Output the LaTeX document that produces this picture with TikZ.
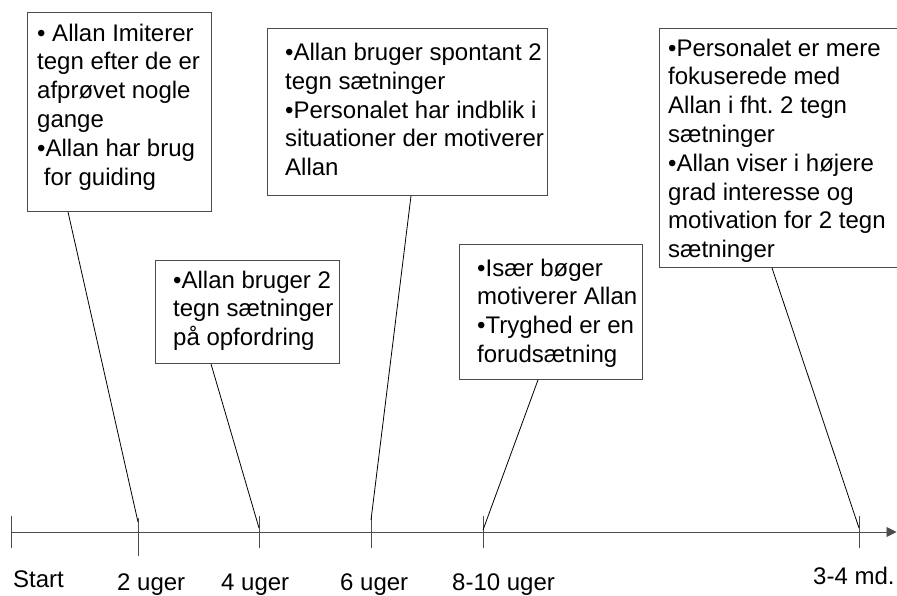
\documentclass[tikz,border=0pt]{standalone}
\usepackage{fontspec}
\setmainfont{Liberation Sans}
\usetikzlibrary{arrows.meta}
\frenchspacing

\tikzset{
  box/.style={draw=black!70, line width=0.9pt, anchor=north west, inner sep=0pt},
  txt/.style={anchor=north west, inner sep=0pt, align=left, font=\fontsize{24}{28.8}\selectfont},
  lbl/.style={anchor=base west, inner sep=0pt, font=\fontsize{24}{28.8}\selectfont},
  axis/.style={draw=black!70, line width=0.9pt},
  leader/.style={draw=black, line width=0.8pt}
}

\begin{document}
\begin{tikzpicture}[x=1pt, y=-1pt]
\useasboundingbox (0,0) rectangle (897,595);

\def\xs{11}
\def\xa{138}
\def\xb{259}
\def\xc{371}
\def\xd{483}
\def\xe{859}

\def\ya{532}
\def\yt{516}
\def\yb{548}

% boxes
\node[box, minimum width=184, minimum height=199] (b1) at (27,12) {};
\node[box, minimum width=184, minimum height=103] (b2) at (155,260) {};
\node[box, minimum width=280, minimum height=167] (b3) at (267,28) {};
\node[box, minimum width=183, minimum height=135] (b4) at (459,244) {};
\node[box, minimum width=260, minimum height=239] (b5) at (659,28) {};

\node[txt] (t1) at (37,23.5) {• Allan Imiterer\\tegn efter de er\\afprøvet nogle\\gange\\•Allan har brug\\\hspace*{.28em}for guiding};
\node[txt] (t2) at (173,270.5) {•Allan bruger 2\\tegn sætninger\\på opfordring};
\node[txt] (t3) at (285,43) {•Allan bruger spontant 2\\tegn sætninger\\•Personalet har indblik i\\situationer der motiverer\\Allan};
\node[txt] (t4) at (477,258.5) {•Især bøger\\motiverer Allan\\•Tryghed er en\\forudsætning};
\node[txt] (t5) at (668,38.5) {•Personalet er mere\\fokuserede med\\Allan i fht. 2 tegn\\sætninger\\•Allan viser i højere\\grad interesse og\\motivation for 2 tegn\\sætninger};

% time axis
\draw[axis, -{Triangle[length=10pt, width=10pt]}] (\xs,\ya) -- (896.5,\ya);
\draw[axis] (\xs,\yt) -- (\xs,\yb);
\draw[axis] (\xa,518) -- (\xa,556);
\draw[axis] (\xb,\yt) -- (\xb,\yb);
\draw[axis] (\xc,\yt) -- (\xc,\yb);
\draw[axis] (\xd,\yt) -- (\xd,\yb);
\draw[axis] (\xe,\yt) -- (\xe,\yb);

\coordinate (k1) at (\xa,522);
\coordinate (k2) at (\xb,528);
\coordinate (k3) at (\xc,520);
\coordinate (k4) at (\xd,530);
\coordinate (k5) at (\xe,528);

\node[lbl] (start) at (13,587) {Start};
\node[lbl] (w2) at (117,590) {2 uger};
\node[lbl] (w4) at (221,590) {4 uger};
\node[lbl] (w6) at (340,590) {6 uger};
\node[lbl] (w8) at (452,590) {8-10 uger};
\node[lbl] (m3) at (813,584) {3-4 md.};

% leaders
\draw[leader] ([xshift=41pt]b1.south west) -- (k1);
\draw[leader] ([xshift=56pt]b2.south west) -- (k2);
\draw[leader] ([xshift=144pt]b3.south west) -- (k3);
\draw[leader] ([xshift=79pt]b4.south west) -- (k4);
\draw[leader] ([xshift=113pt]b5.south west) -- (k5);

\end{tikzpicture}
\end{document}
